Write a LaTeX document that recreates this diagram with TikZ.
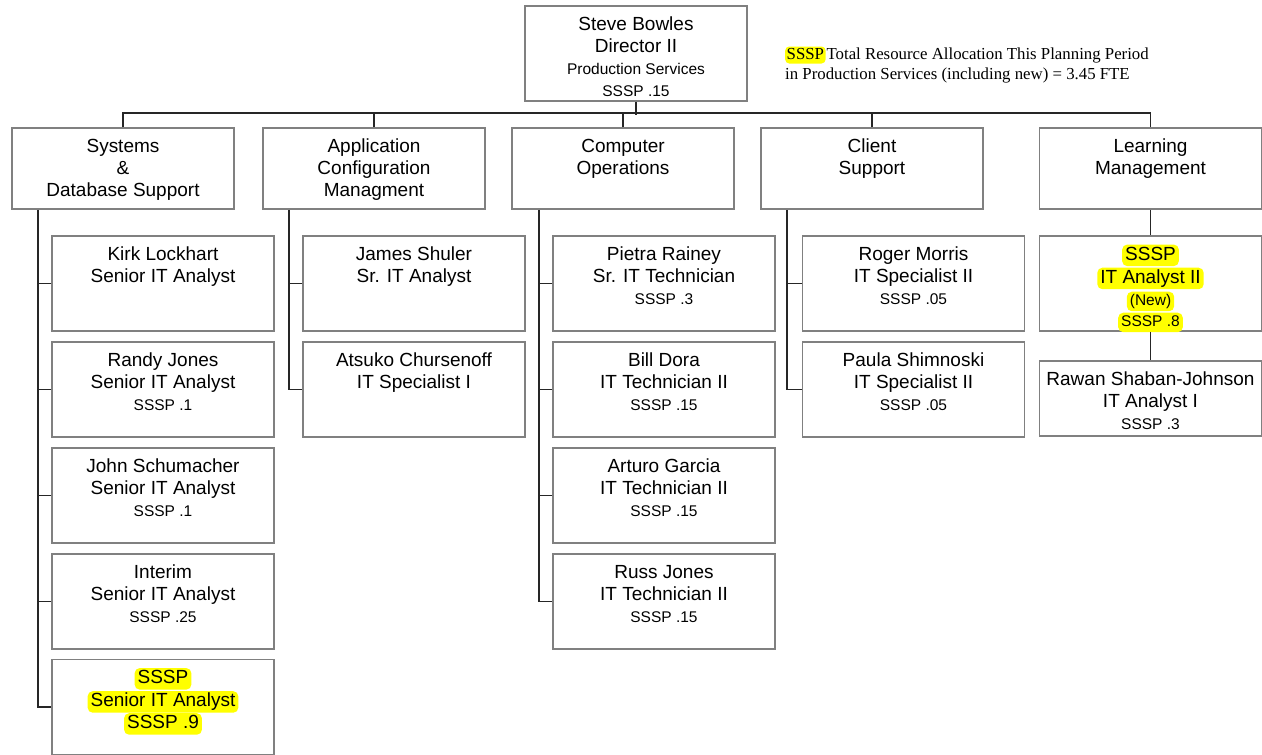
\documentclass[tikz,border=0pt]{standalone}
\usepackage{fontspec}
\setmainfont{Liberation Sans}
\newfontfamily\notefont{Liberation Serif}
\definecolor{boxgray}{HTML}{808080}
\definecolor{marker}{HTML}{FFFF00}

% card text: fixed-height box, lines centred from the top
\newcommand\cardbody[2]{\parbox[c][#1][t]{222pt}{\centering\fontsize{19}{22}\selectfont\vspace*{8.6pt}\strut#2\par}}
\newcommand\sm[1]{{\fontsize{15.5}{22}\selectfont #1}}
% highlighter marks
\newcommand\hl[1]{\tikz[baseline=(hlbig.base)]\node[fill=marker, rounded corners=5pt, inner xsep=3pt, inner ysep=1pt, text height=14.5pt, text depth=5pt] (hlbig) {#1};}
\newcommand\hls[1]{\tikz[baseline=(hlsmall.base)]\node[fill=marker, rounded corners=5pt, inner xsep=3pt, inner ysep=2pt, text height=11.5pt, text depth=4pt] (hlsmall) {\fontsize{15.5}{22}\selectfont #1};}
\newcommand\hln[1]{\tikz[baseline=(hlnote.base)]\node[fill=marker, rounded corners=4pt, inner xsep=1.5pt, inner ysep=1.5pt, text height=11pt, text depth=3pt] (hlnote) {#1};}

\begin{document}
\begin{tikzpicture}[x=1pt,y=-1pt,
  card/.style={draw=boxgray, line width=1.5pt, inner sep=0pt, fill=white},
  conn/.style={draw=black!85, line width=1.6pt},
  note/.style={anchor=base west, inner sep=0pt, font=\notefont\fontsize{16.8}{20}\selectfont}
]
\useasboundingbox (0,0) rectangle (1262,755);

% director
\node[card] (top) at (636,53.5) {\cardbody{95pt}{Steve Bowles\\Director II\\\sm{Production Services}\\\sm{SSSP .15}}};

% allocation note
\node[note] (note1) at (785,59) {\hln{SSSP}\kern1pt Total Resource Allocation This Planning Period};
\node[note] (note2) at (785,79) {in Production Services (including new) = 3.45 FTE};

% departments
\node[card] (sys)  at (123,168.5)    {\cardbody{81pt}{Systems\\\&\\Database Support}};
\node[card] (app)  at (374,168.5)    {\cardbody{81pt}{Application\\Configuration\\Managment}};
\node[card] (comp) at (623,168.5)    {\cardbody{81pt}{Computer\\Operations}};
\node[card] (cli)  at (872,168.5)    {\cardbody{81pt}{Client\\Support}};
\node[card] (lrn)  at (1150.5,168.5) {\cardbody{81pt}{Learning\\Management}};

% systems & database support staff
\node[card] (s1) at (163,283.5) {\cardbody{95pt}{Kirk Lockhart\\Senior IT Analyst}};
\node[card] (s2) at (163,389.5) {\cardbody{95pt}{Randy Jones\\Senior IT Analyst\\\sm{SSSP .1}}};
\node[card] (s3) at (163,495.5) {\cardbody{95pt}{John Schumacher\\Senior IT Analyst\\\sm{SSSP .1}}};
\node[card] (s4) at (163,601.5) {\cardbody{95pt}{Interim\\Senior IT Analyst\\\sm{SSSP .25}}};
\node[card] (s5) at (163,707)   {\cardbody{95pt}{\hl{SSSP}\\\hl{Senior IT Analyst}\\\hl{SSSP .9}}};

% application configuration staff
\node[card] (a1) at (414,283.5) {\cardbody{95pt}{James Shuler\\Sr. IT Analyst}};
\node[card] (a2) at (414,389.5) {\cardbody{95pt}{Atsuko Chursenoff\\IT Specialist I}};

% computer operations staff
\node[card] (c1) at (664,283.5) {\cardbody{95pt}{Pietra Rainey\\Sr. IT Technician\\\sm{SSSP .3}}};
\node[card] (c2) at (664,389.5) {\cardbody{95pt}{Bill Dora\\IT Technician II\\\sm{SSSP .15}}};
\node[card] (c3) at (664,495.5) {\cardbody{95pt}{Arturo Garcia\\IT Technician II\\\sm{SSSP .15}}};
\node[card] (c4) at (664,601.5) {\cardbody{95pt}{Russ Jones\\IT Technician II\\\sm{SSSP .15}}};

% client support staff
\node[card] (k1) at (913.5,283.5) {\cardbody{95pt}{Roger Morris\\IT Specialist II\\\sm{SSSP .05}}};
\node[card] (k2) at (913.5,389.5) {\cardbody{95pt}{Paula Shimnoski\\IT Specialist II\\\sm{SSSP .05}}};

% learning management staff
\node[card] (l1) at (1150.5,283.5) {\cardbody{95pt}{\hl{SSSP}\\\hl{IT Analyst II}\\\hls{(New)}\\[-1pt]\hls{SSSP .8}}};
\node[card] (l2) at (1150.5,398.5) {\cardbody{75pt}{Rawan Shaban-Johnson\\IT Analyst I\\\sm{SSSP .3}}};

% top-level bus
\draw[conn] (top.south) -- ++(0,13);
\draw[conn] (sys.north) -- ++(0,-14) -| (lrn.north);
\foreach \d in {app,comp,cli} \draw[conn] (\d.north) -- ++(0,-14);

% department stems
\coordinate (sysStem)  at ([xshift=27pt]sys.south west);
\coordinate (appStem)  at ([xshift=27pt]app.south west);
\coordinate (compStem) at ([xshift=28pt]comp.south west);
\coordinate (cliStem)  at ([xshift=27pt]cli.south west);

\draw[conn] (sysStem) |- (s5.west);
\foreach \b in {s1,s2,s3,s4} \draw[conn] (\b.west) -- (\b.west -| sysStem);
\draw[conn] (appStem) |- (a2.west);
\draw[conn] (a1.west) -- (a1.west -| appStem);
\draw[conn] (compStem) |- (c4.west);
\foreach \b in {c1,c2,c3} \draw[conn] (\b.west) -- (\b.west -| compStem);
\draw[conn] (cliStem) |- (k2.west);
\draw[conn] (k1.west) -- (k1.west -| cliStem);

\draw[conn] (lrn.south) -- (l1.north);
\draw[conn] (l1.south) -- (l2.north);
\end{tikzpicture}
\end{document}
